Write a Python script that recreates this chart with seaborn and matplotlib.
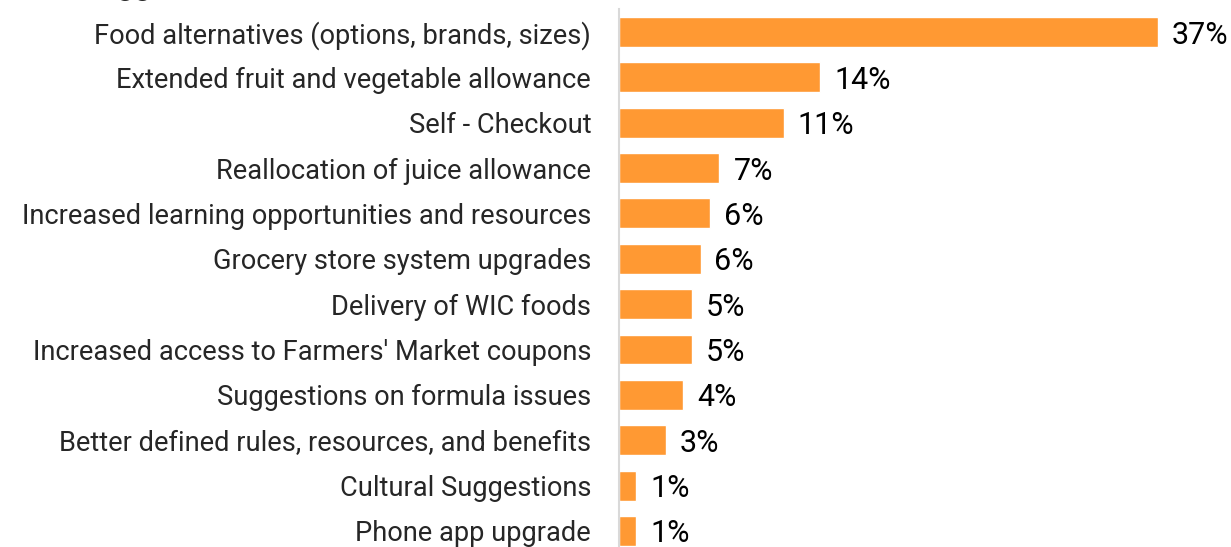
import matplotlib
matplotlib.use("Agg")
import matplotlib.pyplot as plt
import seaborn as sns
import pandas as pd

categories = [
    "Food alternatives (options, brands, sizes)",
    "Extended fruit and vegetable allowance",
    "Self - Checkout",
    "Reallocation of juice allowance",
    "Increased learning opportunities and resources",
    "Grocery store system upgrades",
    "Delivery of WIC foods",
    "Increased access to Farmers' Market coupons",
    "Suggestions on formula issues",
    "Better defined rules, resources, and benefits",
    "Cultural Suggestions",
    "Phone app upgrade",
]
shares = [37.0, 13.8, 11.3, 6.9, 6.25, 5.6, 5.0, 5.0, 4.4, 3.2, 1.2, 1.2]
title = "Suggestions"

sns.set_theme(style="white")
plt.rcParams["font.family"] = ["Roboto", "DejaVu Sans"]

df = pd.DataFrame({"category": categories, "share": shares})

fig = plt.figure(figsize=(12.31, 5.47), dpi=100)
ax = fig.add_axes([0.5028, -0.0121, 0.4972, 0.995])

sns.barplot(data=df, x="share", y="category", orient="h", color="#FF9933",
            saturation=1, width=0.66, ax=ax)

ax.set_xlim(0, 42.0)
ax.set_ylim(11.5, -0.5)
ax.set_xlabel("")
ax.set_ylabel("")
ax.set_xticks([])
for s in ["top", "right", "bottom"]:
    ax.spines[s].set_visible(False)
ax.spines["left"].set_color("#d9d9d9")
ax.spines["left"].set_linewidth(1.5)
ax.tick_params(axis="y", length=0, pad=20, labelsize=19.6, labelcolor="#262626")

for i, v in enumerate(shares):
    ax.annotate(f"{v:.0f}%", xy=(v, i), xytext=(10, 0), textcoords="offset points",
                va="center_baseline", ha="left", fontsize=22, color="black")

fig.text(0.066, 1.0 + 5 / 547, title, fontsize=22, fontweight="bold",
         va="baseline", ha="left", color="#262626")

fig.savefig("out.png", dpi=100)
